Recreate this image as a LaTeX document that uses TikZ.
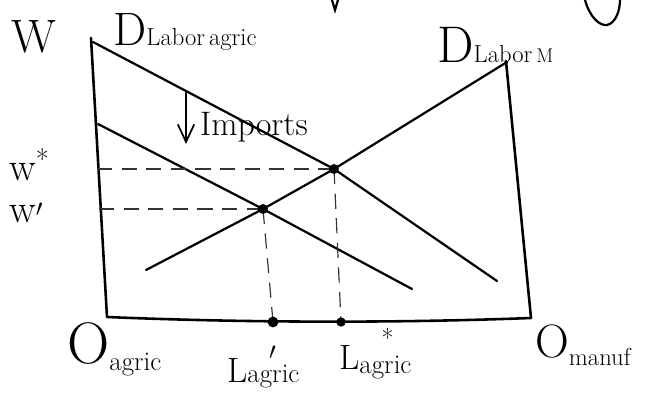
\documentclass[tikz,border=0pt]{standalone}
\usepackage{amsmath}
\usepackage{tikz}
\usetikzlibrary{arrows.meta}

\tikzset{
  dcurve/.style={line width=1.9pt,line cap=round},
  box/.style={line width=2.2pt,line cap=round,line join=round},
  guide/.style={line width=1pt,black!80,dash pattern=on 13pt off 8pt},
  lbl/.style={inner sep=0pt,anchor=base west},
}
\newcommand{\fs}[1]{\fontsize{#1}{#1}\selectfont}

\begin{document}
\begin{tikzpicture}[x=0.03cm,y=-0.03cm]
  \useasboundingbox (0,0) rectangle (647,394);
  \coordinate (Otop) at (91,38);
  \coordinate (Oa) at (107,317);
  \coordinate (Om) at (531,318);
  \coordinate (Mtop) at (506,61);
  \draw[box] (Otop)--(Oa) .. controls (250,323) and (400,323) .. (Om)--(Mtop);
  % demand curves and equilibria
  \coordinate (A1) at (93,42);
  \coordinate (A2) at (497,281);
  \coordinate (B1) at (98,124);
  \coordinate (B2) at (412,289);
  \coordinate (M1) at (146,270);
  \coordinate (M2) at (507,62);
  \coordinate (E) at (334,169);
  \coordinate (F) at (263,209);
  \draw[dcurve] (A1)--(E)--(A2);
  \draw[dcurve] (B1)--(F)--(B2);
  \draw[dcurve] (M1)--(F)--(E)--(M2);
  \coordinate (wsL) at (97,169);
  \coordinate (wpL) at (99,209);
  \coordinate (Lp) at (273,322);
  \coordinate (Ls) at (341,322);
  \draw[guide] (wsL)--(E);
  \draw[guide] (wpL)--(F);
  \draw[guide] (F)--(Lp);
  \draw[guide] (E)--(Ls);
  \fill (E) circle (4.2pt);
  \fill (F) circle (4.2pt);
  \fill (Lp) circle (4.6pt);
  \fill (Ls) circle (4pt);
  % imports shift
  \coordinate (ImpTop) at (186,92);
  \coordinate (ImpBot) at (186,144);
  \draw[line width=1.5pt,-{Straight Barb[length=15pt,width=14pt]}] (ImpTop)--(ImpBot);
  \node[lbl] (Imp) at (200,135) {\fs{29}Imports};
  % labels
  \node[lbl] (W) at (11,53) {\fs{40}W};
  \node[lbl] (Dag) at (113,46) {\fs{40}D\fs{21}Labor\,agric};
  \node[lbl] (DM) at (437,63) {\fs{44}D\fs{21}Labor\,\fs{17}M};
  \node[lbl] (ws) at (9,180) {\fs{34}w\raisebox{9pt}{\fs{24}*}};
  \node[lbl] (wp) at (9,222) {\fs{34}w\raisebox{-4pt}{\fs{32}$'$}};
  \node[lbl] (Oag) at (67,363) {\fs{50}O\raisebox{-6pt}{\fs{23}agric}};
  \node[lbl] (Lpl) at (227,382) {\fs{30}L\fs{23}\rlap{\hspace{0.8em}\raisebox{10pt}{\fs{32}$'$}}agric};
  \node[lbl] (Lsl) at (339,369) {\fs{30}L\rlap{\hspace{19pt}\raisebox{18pt}{\fs{22}*}}\raisebox{-4pt}{\fs{23}agric}};
  \node[lbl] (Omf) at (535,357) {\fs{40}O\raisebox{-7pt}{\fs{21}manuf}};
  % cut-off strokes at the top edge
  \draw[dcurve] (332,0)--(335,10)--(338,0);
  \draw[dcurve] (585,0) .. controls (590,18) and (600,26) .. (607,25) .. controls (616,23) and (620,10) .. (620,0);
\end{tikzpicture}
\end{document}
